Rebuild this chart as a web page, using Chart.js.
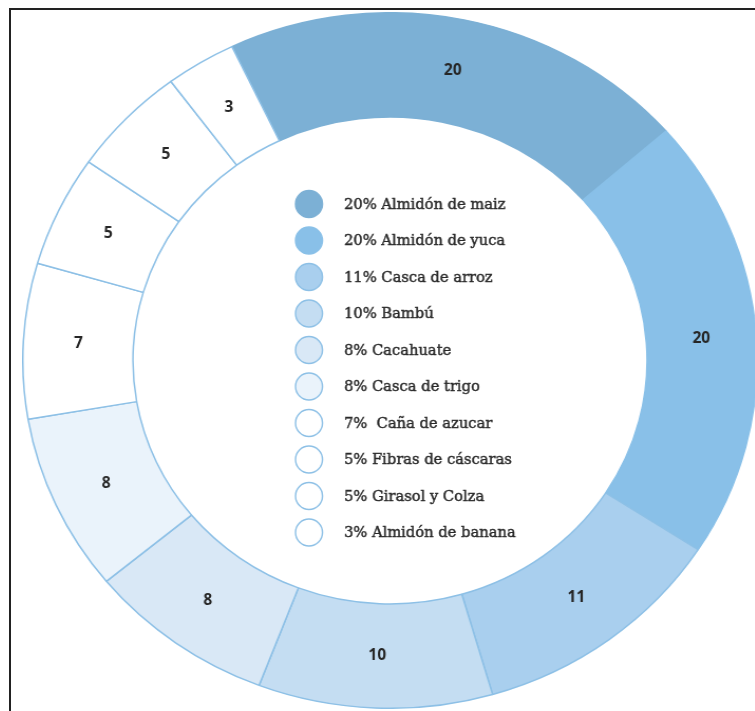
<!DOCTYPE html>
<html>
<head>
<meta charset="utf-8">
<script src="https://cdn.jsdelivr.net/npm/chart.js"></script>
<style>
  html, body { margin: 0; padding: 0; background: #fff; overflow: hidden; width: 755px; height: 711px; }
  #frame { position: absolute; left: 9px; top: 8px; width: 800px; height: 800px; border: 2px solid #222; }
  #myChart { position: absolute; left: 22px; top: 12px; }
</style>
</head>
<body>
<div id="frame"></div>
<canvas id="myChart" width="697" height="697" style="width:736px;height:697px"></canvas>
<script>
// data (clockwise from the dark segment at the top)
const categories = ['Almidón de maiz', 'Almidón de yuca', 'Casca de arroz', 'Bambú', 'Cacahuate',
  'Casca de trigo', ' Caña de azucar', 'Fibras de cáscaras', 'Girasol y Colza', 'Almidón de banana']
const values = [20, 20, 11, 10, 8, 8, 7, 5, 5, 3]

const fillColors = ['#7cb0d5', '#89c0e8', '#a9cfee', '#c4ddf2', '#d9e8f6', '#eaf3fb',
  '#ffffff', '#ffffff', '#ffffff', '#ffffff']
const lineColors = ['#7cb0d5', '#89c0e8', '#8dc0e6', '#8dc0e6', '#8dc0e6', '#8dc0e6',
  '#8dc0e6', '#8dc0e6', '#8dc0e6', '#8dc0e6']

// the original ring is a bit wider than tall, so the canvas is stretched by css
const stretchX = 736 / 697

// numbers in the middle of each segment
const ringLabels = {
  id: 'ringLabels',
  afterDatasetsDraw(chart) {
    const ctx = chart.ctx
    const meta = chart.getDatasetMeta(0)
    ctx.save()
    ctx.scale(1 / stretchX, 1)
    ctx.font = 'bold 15.5px "Open Sans"'
    ctx.fillStyle = '#262626'
    ctx.textAlign = 'center'
    ctx.textBaseline = 'middle'
    meta.data.forEach((arc, i) => {
      const p = arc.getCenterPoint()
      ctx.fillText(String(values[i]), p.x * stretchX, p.y)
    })
    ctx.restore()
  }
}

// legend in the hole of the doughnut
const centerLegend = {
  id: 'centerLegend',
  afterDraw(chart) {
    const ctx = chart.ctx
    ctx.save()
    ctx.scale(1 / stretchX, 1)
    const x0 = 287, y0 = 192, step = 36.5
    categories.forEach((name, i) => {
      const y = y0 + i * step
      ctx.beginPath()
      ctx.arc(x0, y, 13.5, 0, Math.PI * 2)
      ctx.fillStyle = fillColors[i]
      ctx.fill()
      ctx.lineWidth = 1.5
      ctx.strokeStyle = i < 2 ? fillColors[i] : '#8dc0e6'
      ctx.stroke()

      const text = values[i] + '% ' + name
      ctx.font = '14.7px "DejaVu Serif"'
      ctx.fillStyle = '#2a2a2a'
      ctx.strokeStyle = '#2a2a2a'
      ctx.lineWidth = 0.45
      ctx.textAlign = 'left'
      ctx.textBaseline = 'middle'
      ctx.fillText(text, 322, y + 1)
      ctx.strokeText(text, 322, y + 1)
    })
    ctx.restore()
  }
}

const ctx = document.getElementById('myChart')

new Chart(ctx, {
  type: 'doughnut',
  data: {
    labels: categories,
    datasets: [{
      data: values,
      backgroundColor: fillColors,
      borderColor: lineColors,
      borderWidth: 1.5
    }]
  },
  options: {
    responsive: false,
    animation: false,
    devicePixelRatio: 1,
    events: [],
    rotation: -25.5,
    cutout: '70%',
    layout: { padding: 0 },
    plugins: {
      legend: { display: false },
      tooltip: { enabled: false }
    }
  },
  plugins: [ringLabels, centerLegend]
})
</script>
</body>
</html>
